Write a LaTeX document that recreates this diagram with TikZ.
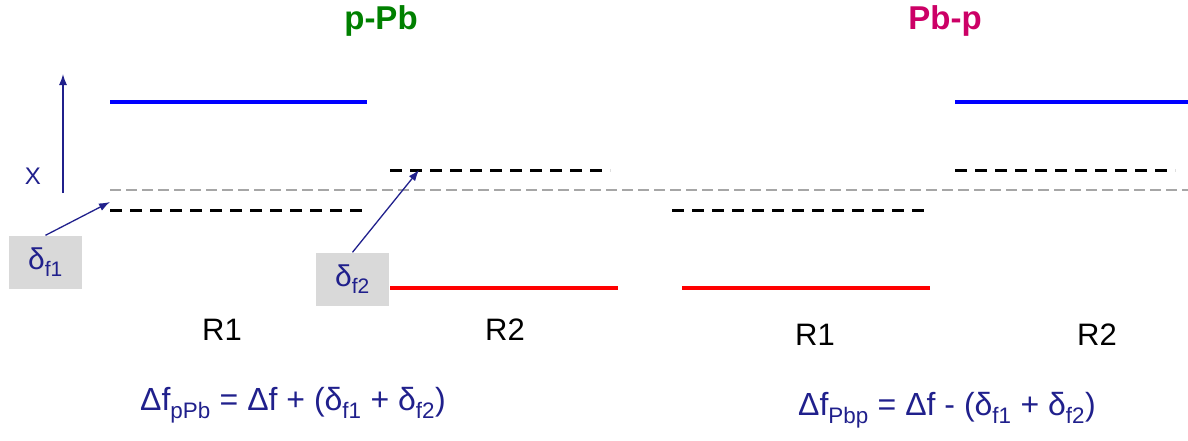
\documentclass[tikz,border=0pt]{standalone}
\usepackage{fontspec}
\setmainfont{Liberation Sans}
\usetikzlibrary{arrows.meta}
\definecolor{navy}{RGB}{32,32,140}
\definecolor{titlegreen}{RGB}{0,128,0}
\definecolor{titlemag}{RGB}{204,0,102}
\definecolor{boxgray}{RGB}{217,217,217}
\newcommand{\lo}[1]{\textsubscript{#1}}
\tikzset{
  upper/.style={blue, line width=4pt},
  lower/.style={red, line width=4pt},
  level/.style={black, line width=3pt, dash pattern=on 12pt off 8pt},
  ref/.style={gray!70, line width=1.5pt, dash pattern=on 11pt off 5pt},
  pointer/.style={navy, line width=1.3pt, -{Latex[length=11pt,width=8pt]}},
  deltabox/.style={fill=boxgray, minimum width=73pt, minimum height=53pt, inner sep=0pt, font=\fontsize{30}{34}\selectfont, text=navy},
  region/.style={font=\fontsize{31}{36}\selectfont},
  title/.style={font=\fontsize{33}{38}\selectfont\bfseries},
  formula/.style={font=\fontsize{32}{36}\selectfont, text=navy}
}
\begin{document}
\begin{tikzpicture}[x=1pt, y=-1pt]
\useasboundingbox (0,0) rectangle (1188,440);

% titles
\node[title, text=titlegreen] (t1) at (381,21) {p-Pb};
\node[title, text=titlemag] (t2) at (945,21) {Pb-p};

% axis
\coordinate (ax0) at (63,193);
\coordinate (ax1) at (63,74);
\draw[pointer] (ax0) -- (ax1);
\node[font=\fontsize{24}{28}\selectfont, text=navy] (xl) at (33,176) {X};

% reference level
\draw[ref] (110,190) -- (1188,190);

% p-Pb levels
\draw[upper] (110,102) -- (367,102);
\draw[level] (110,210) -- (367,210);
\draw[level] (390,170) -- (610,170);
\draw[lower] (390,288) -- (618,288);

% Pb-p levels
\draw[level] (672,210) -- (928,210);
\draw[lower] (682,288) -- (930,288);
\draw[upper] (955,102) -- (1188,102);
\draw[level] (955,170) -- (1175,170);

% shift boxes
\node[deltabox] (d1) at (45.5,262) {δ\lo{f1}};
\node[deltabox] (d2) at (352.5,279) {δ\lo{f2}};
\coordinate (e1) at (110,202);
\coordinate (e2) at (419,170);
\draw[pointer] (d1.north) -- (e1);
\draw[pointer] (d2.north) -- (e2);

% region labels
\node[region] (r1a) at (222,330) {R1};
\node[region] (r2a) at (505,330) {R2};
\node[region] (r1b) at (815,335) {R1};
\node[region] (r2b) at (1097,335) {R2};

% formulas
\node[formula] (f1) at (293,405) {Δf\lo{pPb} = Δf + (δ\lo{f1} + δ\lo{f2})};
\node[formula] (f2) at (947,410) {Δf\lo{Pbp} = Δf - (δ\lo{f1} + δ\lo{f2})};
\end{tikzpicture}
\end{document}
